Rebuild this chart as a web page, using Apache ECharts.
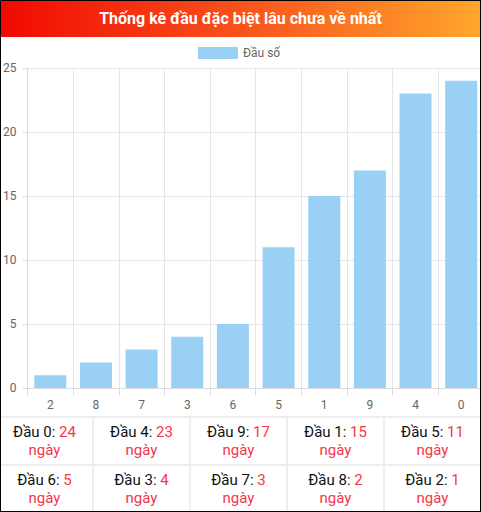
<!DOCTYPE html>
<html>
<head>
<meta charset="utf-8">
<script src="https://cdn.jsdelivr.net/npm/echarts@6/dist/echarts.min.js"></script>
<style>
html,body{margin:0;padding:0;}
body{width:481px;height:512px;overflow:hidden;font-family:Roboto,"Noto Sans",Arial,sans-serif;}
#wrap{position:relative;width:481px;height:512px;box-sizing:border-box;border:1px solid #000;overflow:hidden;background:#fff;}
#head{position:absolute;left:0;top:0;width:479px;height:36px;background:linear-gradient(to right,#f00a00,#f84a1a 45%,#ffa62c);color:#fff;font-weight:bold;font-size:16px;line-height:35px;text-align:center;}
#chart{position:absolute;left:-1px;top:35px;width:500px;height:382px;}
#tbl{position:absolute;left:-4px;top:415px;width:485px;height:100px;}
#tbl .c{position:absolute;width:97px;box-sizing:border-box;border-right:2px solid #eeeeee;border-bottom:2px solid #eeeeee;display:flex;flex-direction:column;justify-content:center;align-items:center;font-size:15px;line-height:18px;color:#111;}
#tbl .first{border-top:2px solid #eeeeee;}
#tbl .r{color:#f5364a;}
</style>
</head>
<body>
<div id="wrap">
<div id="head">Thống kê đầu đặc biệt lâu chưa về nhất</div>
<div id="chart"></div>
<div id="tbl"></div>
</div>
<script>
var categories = ['2','8','7','3','6','5','1','9','4','0'];
var values = [1,2,3,4,5,11,15,17,23,24];
var seriesName = 'Đầu số';
var tableHeads = ['0','4','9','1','5','6','3','7','8','2'];
var tableDays = [24,23,17,15,11,5,4,3,2,1];
var dayWord = 'ngày';

var tblEl = document.getElementById('tbl');
var cellsHtml = '';
for (var r = 0; r < 2; r++) {
  for (var c = 0; c < 5; c++) {
    var i = r*5 + c;
    var cellTop = r === 0 ? 0 : 50;
    var cellH = r === 0 ? 50 : 48;
    cellsHtml += '<div class="c' + (r === 0 ? ' first' : '') + '" style="left:' + (97*c) + 'px;top:' + cellTop + 'px;height:' + cellH + 'px">' +
      '<div>Đầu ' + tableHeads[i] + ': <span class="r">' + tableDays[i] + '</span></div>' +
      '<div class="r">' + dayWord + '</div></div>';
  }
}
tblEl.innerHTML = cellsHtml;

var chart = echarts.init(document.getElementById('chart'), null, {renderer:'svg'});
chart.setOption({
  animation:false,
  legend:{
    data:[seriesName], left:198, top:11, padding:0, itemWidth:40, itemHeight:12, itemGap:6,
    icon:'rect',
    textStyle:{color:'#666', fontSize:12, fontFamily:'Roboto'}
  },
  grid:{left:24, right:16, top:32, bottom:30, containLabel:false},
  xAxis:{
    type:'category', data:categories, boundaryGap:true,
    axisLine:{show:true, lineStyle:{color:'#dcdcdc'}},
    axisTick:{show:true, length:7, lineStyle:{color:'#dcdcdc'}},
    axisLabel:{color:'#666', fontSize:12, margin:11, fontFamily:'Roboto'},
    splitLine:{show:true, lineStyle:{color:'#e6e6e6'}}
  },
  yAxis:{
    type:'value', min:0, max:25, interval:5,
    axisLine:{show:true, lineStyle:{color:'#dcdcdc'}},
    axisTick:{show:true, length:5, lineStyle:{color:'#dcdcdc'}},
    axisLabel:{color:'#666', fontSize:12, margin:11, fontFamily:'Roboto'},
    splitLine:{show:true, lineStyle:{color:'#e6e6e6'}}
  },
  series:[{
    name:seriesName, type:'bar', data:values, barWidth:32,
    itemStyle:{color:'#9bd0f5'}
  }]
});
</script>
</body>
</html>
